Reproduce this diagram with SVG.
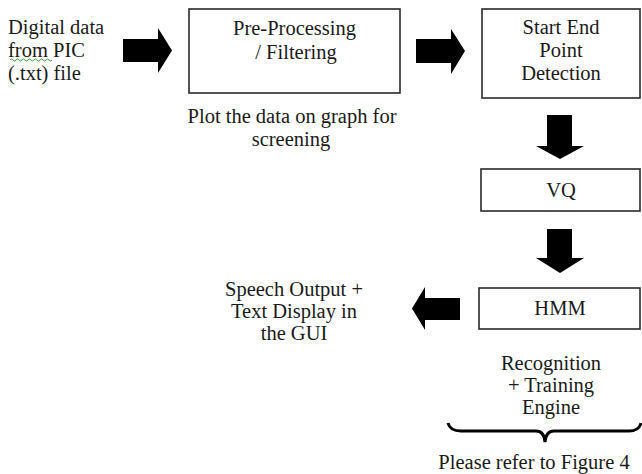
<svg xmlns="http://www.w3.org/2000/svg" width="642" height="474" viewBox="0 0 642 474">
  <style>
    .t { font-family: 'Liberation Serif', 'DejaVu Serif', serif; font-size: 20.5px; fill: #1a1a1a; }
    .c { text-anchor: middle; }
    .box { fill: #ffffff; stroke: #2a2a2a; stroke-width: 1.6; }
    .blk { fill: #000000; }
  </style>
  <rect width="642" height="474" fill="#ffffff"/>

  <!-- input source -->
  <g id="input">
    <text class="t" x="8" y="34">Digital data</text>
    <text class="t" x="8" y="57">from PIC</text>
    <text class="t" x="8" y="80">(.txt) file</text>
    <path d="M10,60 q1.5,-2 3,0 t3,0 t3,0 t3,0 t3,0 t3,0 t3,0 t3,0 t3,0 t3,0 t3,0 t3,0 t3,0 t3,0" fill="none" stroke="#3a9a3a" stroke-width="1"/>
  </g>

  <g id="preprocessing">
    <rect class="box" x="189" y="9" width="211" height="84"/>
    <text class="t c" x="294.5" y="35">Pre-Processing</text>
    <text class="t c" x="296" y="59">/ Filtering</text>
  </g>

  <g id="plot-note">
    <text class="t c" x="292" y="123">Plot the data on graph for</text>
    <text class="t c" x="291" y="146">screening</text>
  </g>

  <g id="endpoint">
    <rect class="box" x="482" y="9" width="158" height="89"/>
    <text class="t c" x="561" y="34">Start End</text>
    <text class="t c" x="561" y="57">Point</text>
    <text class="t c" x="561" y="80">Detection</text>
  </g>

  <g id="vq">
    <rect class="box" x="481" y="169" width="159" height="42"/>
    <text class="t c" x="561" y="197">VQ</text>
  </g>

  <g id="hmm">
    <rect class="box" x="479" y="288" width="161" height="41"/>
    <text class="t c" x="560" y="315">HMM</text>
  </g>

  <g id="output">
    <text class="t c" x="294" y="296">Speech Output +</text>
    <text class="t c" x="294" y="318">Text Display in</text>
    <text class="t c" x="294" y="340">the GUI</text>
  </g>

  <g id="engine">
    <text class="t c" x="551" y="370">Recognition</text>
    <text class="t c" x="551" y="392">+ Training</text>
    <text class="t c" x="551" y="414">Engine</text>
    <path d="M448,423 Q450,431 461,431 L536,431 Q544,431 545,442 Q546,431 554,431 L629,431 Q639,431 641,423" fill="none" stroke="#000" stroke-width="3"/>
    <text class="t c" x="534" y="469">Please refer to Figure 4</text>
  </g>

  <!-- block arrows between stages -->
  <g id="connectors">
    <polygon class="blk" points="123,39 158,39 158,28 172,50.5 158,73 158,62 123,62"/>
    <polygon class="blk" points="416,39 451,39 451,29 465,51 451,74 451,63 416,63"/>
    <polygon class="blk" points="547,115 572,115 572,146 584,146 560,159 536,146 547,146"/>
    <polygon class="blk" points="547,229 572,229 572,258 584,258 560,273 536,258 547,258"/>
    <polygon class="blk" points="460,298 425,298 425,287 412,308.5 425,330 425,320 460,320"/>
  </g>
</svg>
